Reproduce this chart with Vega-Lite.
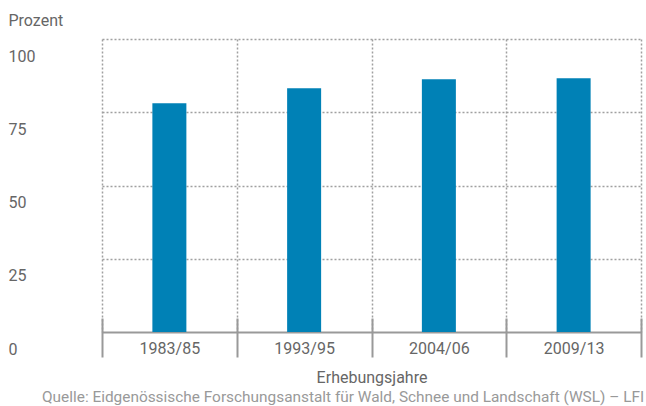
{
  "$schema": "https://vega.github.io/schema/vega-lite/v6.json",
  "autosize": "none",
  "width": 633,
  "height": 293,
  "padding": {"left": 8, "top": 39, "right": 5, "bottom": 74},
  "background": "white",
  "config": {"view": {"stroke": null}, "font": "Roboto"},
  "title": {"text": "Quelle: Eidgenössische Forschungsanstalt für Wald, Schnee und Landschaft (WSL) – LFI", "orient": "bottom", "anchor": "start", "dx": 34, "offset": 5, "fontSize": 15.4, "fontWeight": "normal", "color": "#999999", "font": "Roboto", "limit": 700},
  "data": {"values": [
    {"jahre": "1983/85", "prozent": 78.1},
    {"jahre": "1993/95", "prozent": 83.2},
    {"jahre": "2004/06", "prozent": 86.3},
    {"jahre": "2009/13", "prozent": 86.6}
  ]},
  "mark": {"type": "bar", "width": 34, "color": "#0081b6"},
  "encoding": {
    "x": {
      "field": "jahre", "type": "nominal", "sort": null,
      "scale": {"range": [94, 633], "paddingInner": 0, "paddingOuter": 0},
      "axis": {
        "title": "Erhebungsjahre", "titleFontSize": 16, "titleFontWeight": "normal", "titleColor": "#666666", "titlePadding": 11,
        "labelAngle": 0, "labelFontSize": 16, "labelColor": "#666666", "labelPadding": -17, "labelBaseline": "top",
        "domain": false, "offset": -14,
        "tickBand": "extent", "tickSize": 39, "tickColor": "#999999", "tickWidth": 2,
        "grid": true, "gridDash": [2, 2], "gridColor": "#a0a0a0", "gridWidth": 1.5
      }
    },
    "y": {
      "field": "prozent", "type": "quantitative",
      "scale": {"domain": [0, 100], "nice": false},
      "axis": {
        "title": "Prozent", "titleAngle": 0, "titleX": 0, "titleY": -19, "titleAlign": "left", "titleBaseline": "middle",
        "titleFontSize": 16, "titleFontWeight": "normal", "titleColor": "#666666",
        "values": [0, 25, 50, 75, 100],
        "domain": false, "ticks": false, "tickSize": 0, "labelPadding": 0, "labelAlign": "left", "labelBaseline": "top", "labelOffset": 9,
        "labelFontSize": 16, "labelColor": "#666666", "labelOverlap": false, "labelBound": false,
        "grid": true,
        "gridDash": {"condition": {"test": "datum.value === 0", "value": []}, "value": [2, 2]},
        "gridWidth": {"condition": {"test": "datum.value === 0", "value": 2}, "value": 1.5},
        "gridColor": {"condition": {"test": "datum.value === 0", "value": "#999999"}, "value": "#a0a0a0"}
      }
    }
  }
}
